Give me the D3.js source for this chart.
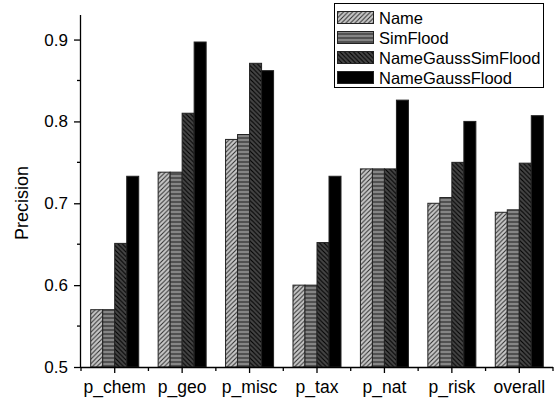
<!DOCTYPE html>
<html>
<head>
<meta charset="utf-8">
<script src="https://cdn.jsdelivr.net/npm/d3@7"></script>
<style>
  html, body { margin: 0; padding: 0; background: #fff; }
  svg { display: block; }
  text { font-family: "Liberation Sans", Arial, sans-serif; fill: #000; }
</style>
</head>
<body>
<svg id="chart" width="560" height="400"></svg>
<script>
const categories = ["p_chem", "p_geo", "p_misc", "p_tax", "p_nat", "p_risk", "overall"];
const seriesNames = ["Name", "SimFlood", "NameGaussSimFlood", "NameGaussFlood"];
const nameValues = [0.570, 0.738, 0.778, 0.600, 0.742, 0.700, 0.689];
const simFloodValues = [0.570, 0.738, 0.784, 0.600, 0.742, 0.707, 0.692];
const nameGaussSimFloodValues = [0.651, 0.810, 0.871, 0.652, 0.742, 0.750, 0.749];
const nameGaussFloodValues = [0.733, 0.897, 0.862, 0.733, 0.826, 0.800, 0.807];
const yTicks = [0.5, 0.6, 0.7, 0.8, 0.9];
const yMinorTicks = [0.55, 0.65, 0.75, 0.85];

const seriesValues = [nameValues, simFloodValues, nameGaussSimFloodValues, nameGaussFloodValues];

const svg = d3.select("#chart");
const mLeft = 81, mRight = 553, mTop = 15, mBottom = 367;

const x = d3.scaleBand().domain(categories).range([mLeft, mRight])
  .paddingInner(0.288).paddingOuter(0.144);
const xs = d3.scaleBand().domain(seriesNames).range([0, x.bandwidth()]);
const y = d3.scaleLinear().domain([0.5, 0.93]).range([mBottom, mTop]);

// patterns
const defs = svg.append("defs");
function hatch(id, bg, dir, color, size, w) {
  const p = defs.append("pattern").attr("id", id).attr("patternUnits", "userSpaceOnUse")
    .attr("width", size).attr("height", size);
  p.append("rect").attr("width", size).attr("height", size).attr("fill", bg);
  let d;
  if (dir === "/") d = `M0,${size} L${size},0 M${-1},1 L1,${-1} M${size-1},${size+1} L${size+1},${size-1}`;
  else if (dir === "\\") d = `M0,0 L${size},${size} M${-1},${size-1} L1,${size+1} M${size-1},${-1} L${size+1},1`;
  else d = `M0,${size/2} L${size},${size/2}`;
  p.append("path").attr("d", d).attr("stroke", color).attr("stroke-width", w).attr("fill", "none");
}
hatch("pName", "#c8c8c8", "/", "#2a2a2a", 4.5, 1);
hatch("pSim", "#858585", "-", "#3a3a3a", 4, 1.4);
hatch("pNGSF", "#454545", "\\", "#000", 4.5, 1.1);
const fills = ["url(#pName)", "url(#pSim)", "url(#pNGSF)", "#000"];

// bars
seriesNames.forEach((s, si) => {
  svg.append("g").selectAll("rect").data(categories).join("rect")
    .attr("x", c => x(c) + xs(s))
    .attr("y", (c, i) => y(seriesValues[si][i]))
    .attr("width", xs.bandwidth())
    .attr("height", (c, i) => y(0.5) - y(seriesValues[si][i]))
    .attr("fill", fills[si])
    .attr("stroke", "#222")
    .attr("stroke-width", 1);
});

// y axis
const yAxis = d3.axisLeft(y).tickValues(yTicks).tickFormat(d3.format(".1f"))
  .tickSize(7).tickPadding(6);
const gy = svg.append("g").attr("transform", `translate(${mLeft},0)`).call(yAxis);
gy.select(".domain").attr("d", `M-0.5,${mTop}V${mBottom}`).attr("stroke", "#000").attr("stroke-width", 1.3);
gy.selectAll(".tick line").attr("stroke-width", 1.3);
gy.selectAll("text").style("font-size", "17px").attr("font-family", "Liberation Sans, Arial, sans-serif");
svg.append("g").selectAll("line").data(yMinorTicks).join("line")
  .attr("x1", mLeft - 4).attr("x2", mLeft).attr("y1", d => y(d)).attr("y2", d => y(d))
  .attr("stroke", "#000").attr("stroke-width", 1.3);

// x axis
const xAxis = d3.axisBottom(x).tickSize(6).tickPadding(8).tickSizeOuter(0);
const gx = svg.append("g").attr("transform", `translate(0,${mBottom})`).call(xAxis);
gx.select(".domain").attr("d", `M${mLeft},0.5H${mRight}`).attr("stroke", "#000").attr("stroke-width", 1.3);
gx.selectAll(".tick line").attr("stroke-width", 1.3);
gx.selectAll("text").style("font-size", "17.5px").attr("font-family", "Liberation Sans, Arial, sans-serif");
const boundaries = d3.range(categories.length + 1).map(i => mLeft + i * x.step());
svg.append("g").selectAll("line").data(boundaries).join("line")
  .attr("x1", d => d).attr("x2", d => d).attr("y1", mBottom).attr("y2", mBottom + 4)
  .attr("stroke", "#000").attr("stroke-width", 1.3);

// y label
svg.append("text").attr("transform", `translate(28,${(mTop + mBottom) / 2 + 12}) rotate(-90)`)
  .attr("text-anchor", "middle").style("font-size", "18px").text("Precision");

// legend
const lg = svg.append("g");
lg.append("rect").attr("x", 334.5).attr("y", 3.5).attr("width", 209).attr("height", 84)
  .attr("fill", "#fff").attr("stroke", "#000").attr("stroke-width", 1);
seriesNames.forEach((s, i) => {
  const cy = 17.5 + i * 20;
  lg.append("rect").attr("x", 337.5).attr("y", cy - 6).attr("width", 36).attr("height", 12)
    .attr("fill", fills[i]).attr("stroke", "#222").attr("stroke-width", 1);
  lg.append("text").attr("x", 379).attr("y", cy + 6).style("font-size", "16.5px").text(s);
});
</script>
</body>
</html>
